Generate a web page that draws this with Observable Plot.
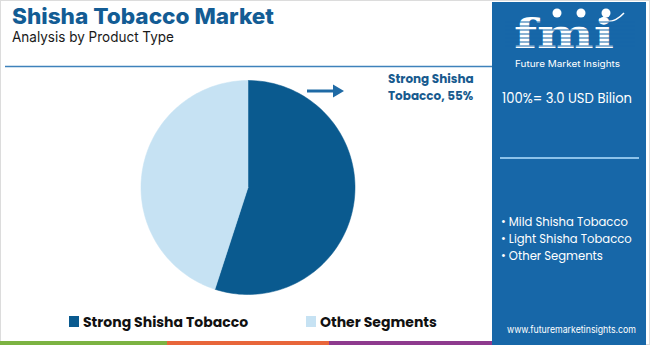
<!DOCTYPE html>
<html>
<head>
<meta charset="utf-8">
<script src="https://cdn.jsdelivr.net/npm/d3@7"></script>
<script src="https://cdn.jsdelivr.net/npm/@observablehq/plot@0.6"></script>
<style>
  html, body { margin: 0; padding: 0; background: #fff; }
  #wrap { position: relative; width: 650px; height: 345px; overflow: hidden; }
  #deco, #chart { position: absolute; left: 0; top: 0; }
  #chart svg { display: block; background: transparent; }
</style>
</head>
<body>
<div id="wrap">
<svg id="deco" width="650" height="345" xmlns="http://www.w3.org/2000/svg">
  <rect x="0.5" y="0.5" width="649" height="344" fill="#fff" stroke="#dcdcdc"/>
  <!-- title -->
  <text x="12" y="24" font-family="Inter, sans-serif" font-weight="800" font-size="22" fill="#135c94" textLength="262" lengthAdjust="spacingAndGlyphs">Shisha Tobacco Market</text>
  <text x="12" y="42" font-family="Inter, sans-serif" font-size="14.5" fill="#1a1a1a" textLength="162" lengthAdjust="spacingAndGlyphs">Analysis by Product Type</text>
  <line x1="5" y1="66.5" x2="492" y2="66.5" stroke="#3f82bb" stroke-width="1.5"/>
  <!-- arrow annotation -->
  <line x1="307" y1="91" x2="336" y2="91" stroke="#1f6aa5" stroke-width="3"/>
  <polygon points="333,84.5 344,91 333,97.5" fill="#1f6aa5"/>
  <text font-family="Poppins, Inter, sans-serif" font-weight="700" font-size="12" fill="#175a8e">
    <tspan x="388" y="83">Strong Shisha</tspan>
    <tspan x="388" y="100">Tobacco, 55%</tspan>
  </text>
  <!-- right panel -->
  <rect x="492" y="2" width="154" height="343" fill="#1767a8"/>
  <defs>
    <clipPath id="logoClip"><rect x="505" y="18" width="130" height="34"/></clipPath>
  </defs>
  <g>
    <text x="514" y="48" font-family="DejaVu Serif, serif" font-weight="700" font-size="41" fill="#fff" textLength="100" lengthAdjust="spacingAndGlyphs">fmi</text>
    <circle cx="557" cy="13" r="4.5" fill="#fff"/>
    <circle cx="581" cy="13" r="4.5" fill="#fff"/>
    <circle cx="606" cy="13" r="4.5" fill="#fff"/>
    <path d="M599 19 Q612 26 624 13" fill="none" stroke="#fff" stroke-width="1.5"/>
    <g clip-path="url(#logoClip)" stroke="#1767a8" stroke-width="1.2">
      <line x1="505" y1="22" x2="635" y2="22"/>
      <line x1="505" y1="26" x2="635" y2="26"/>
      <line x1="505" y1="30" x2="635" y2="30"/>
      <line x1="505" y1="34" x2="635" y2="34"/>
      <line x1="505" y1="38" x2="635" y2="38"/>
      <line x1="505" y1="42" x2="635" y2="42"/>
      <line x1="505" y1="46" x2="635" y2="46"/>
    </g>
    <text x="515" y="66.5" font-family="Inter, sans-serif" font-size="8.5" fill="#fff" textLength="105" lengthAdjust="spacingAndGlyphs">Future Market Insights</text>
  </g>
  <text x="502" y="103" font-family="Poppins, Inter, sans-serif" font-size="13.5" fill="#fff" textLength="130" lengthAdjust="spacingAndGlyphs">100%= 3.0 USD Bilion</text>
  <line x1="500" y1="158" x2="639" y2="158" stroke="#8cc2ea" stroke-width="2"/>
  <g font-family="Poppins, Inter, sans-serif" font-size="11.6" fill="#fff">
    <text x="501" y="226">• Mild Shisha Tobacco</text>
    <text x="501" y="243">• Light Shisha Tobacco</text>
    <text x="501" y="260">• Other Segments</text>
  </g>
  <text x="507" y="333" font-family="Inter, sans-serif" font-size="9.5" fill="#fff" textLength="129" lengthAdjust="spacingAndGlyphs">www.futuremarketinsights.com</text>
  <!-- bottom strip -->
  <rect x="0" y="341" width="167" height="4" fill="#7cb342"/>
  <rect x="167" y="341" width="162" height="4" fill="#e8663a"/>
  <rect x="329" y="341" width="163" height="4" fill="#8e3a8e"/>
</svg>
<div id="chart"></div>
</div>
<script>
// ---- data ----
const categories = ["Strong Shisha Tobacco", "Other Segments"];
const shares = [55, 45];
const sliceColors = ["#0a5a8f", "#c6e2f3"];

// build slice outlines from the pie layout (angles come from the data)
const arcs = d3.pie().sort(null)(shares);
const pts = [];
arcs.forEach((a, i) => {
  const cat = categories[i];
  pts.push({cat, x: 0, y: 0});
  const n = 120;
  for (let k = 0; k <= n; k++) {
    const t = a.startAngle + (a.endAngle - a.startAngle) * k / n;
    pts.push({cat, x: Math.sin(t), y: Math.cos(t)});
  }
  pts.push({cat, x: 0, y: 0});
});

const chart = Plot.plot({
  width: 650,
  height: 345,
  margin: 0,
  style: {background: "transparent"},
  x: {domain: [-1, 1], range: [140.5, 354.5], axis: null},
  y: {domain: [-1, 1], range: [294, 80], axis: null},
  color: {domain: categories, range: sliceColors},
  marks: [
    Plot.line(pts, {x: "x", y: "y", z: "cat", fill: "cat", stroke: "cat", strokeWidth: 0.5, curve: "linear"})
  ]
});
document.getElementById("chart").appendChild(chart);

// legend (below the pie) drawn as real text
const legend = d3.select("#deco");
const legendX = [69, 306];
categories.forEach((c, i) => {
  legend.append("rect").attr("x", legendX[i]).attr("y", 316).attr("width", 10).attr("height", 11).attr("fill", sliceColors[i]);
  legend.append("text").attr("x", legendX[i] + 14).attr("y", 327)
    .attr("font-family", "Poppins, Inter, sans-serif").attr("font-weight", 700)
    .attr("font-size", 14).attr("fill", "#111").text(c);
});
</script>
</body>
</html>
